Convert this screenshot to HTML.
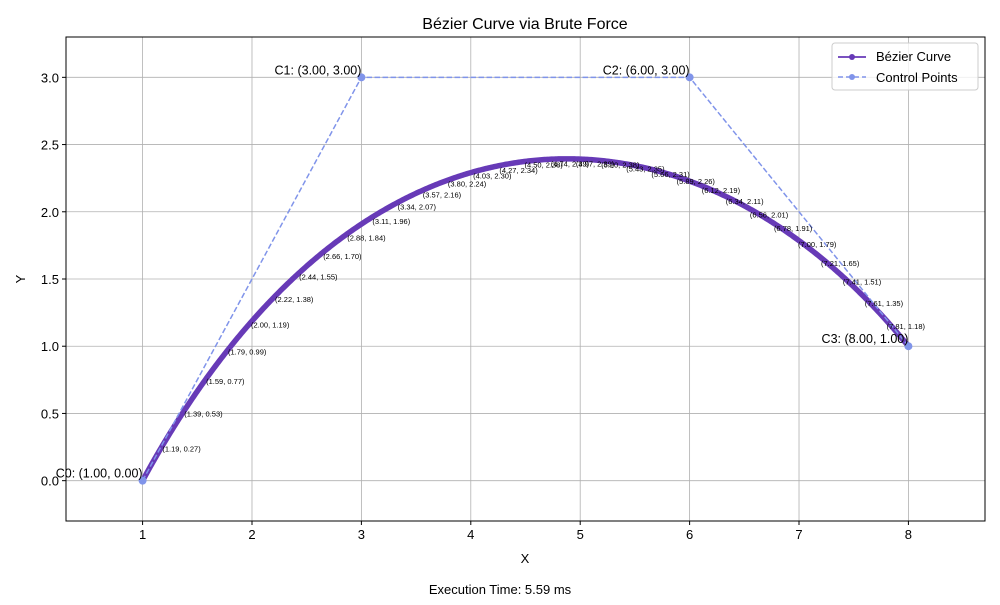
<!DOCTYPE html>
<html><head><meta charset="utf-8"><style>
body{margin:0;background:#fff;font-family:"Liberation Sans","DejaVu Sans",sans-serif}
svg text{font-family:"Liberation Sans","DejaVu Sans",sans-serif}
</style></head><body>
<svg id="chart" width="1000" height="600" xmlns="http://www.w3.org/2000/svg">
<rect width="1000" height="600" fill="#fff"/>
<g id="grid"></g>
<g id="series"></g>
<g id="labels"></g>
<rect x="66" y="37" width="919" height="484" fill="none" stroke="#000" stroke-width="1"/>
<g id="ticks"></g>
<text x="525" y="29" font-size="16" text-anchor="middle">Bézier Curve via Brute Force</text>
<text x="525" y="563" font-size="13" text-anchor="middle">X</text>
<text x="25" y="279" font-size="13" text-anchor="middle" transform="rotate(-90 25 279)">Y</text>
<text x="500" y="594" font-size="13" text-anchor="middle">Execution Time: 5.59 ms</text>
<g>
<rect x="832" y="43" width="146" height="47" rx="3" fill="#fff" fill-opacity="0.8" stroke="#ccc"/>
<g>
<line x1="838" y1="57" x2="866" y2="57" stroke="#673ab7" stroke-width="1.8"/><circle cx="852" cy="57" r="3" fill="#673ab7"/>
<text x="876" y="61" font-size="13">Bézier Curve</text></g>
<g>
<line x1="838" y1="77" x2="866" y2="77" stroke="#8094ea" stroke-width="1.5" stroke-dasharray="5,3"/><circle cx="852" cy="77" r="3" fill="#8094ea"/>
<text x="876" y="82" font-size="13">Control Points</text></g>
</g>
</svg>
<script>
const ctrlX=[1,3,6,8];
const ctrlY=[0,3,3,1];
const ctrlNames=["C0","C1","C2","C3"];
const labelX=[1.19,1.39,1.59,1.79,2.00,2.22,2.44,2.66,2.88,3.11,3.34,3.57,3.80,4.03,4.27,4.50,4.74,4.97,5.20,5.43,5.66,5.89,6.12,6.34,6.56,6.78,7.00,7.21,7.41,7.61,7.81];
const labelY=[0.27,0.53,0.77,0.99,1.19,1.38,1.55,1.70,1.84,1.96,2.07,2.16,2.24,2.30,2.34,2.38,2.39,2.39,2.38,2.35,2.31,2.26,2.19,2.11,2.01,1.91,1.79,1.65,1.51,1.35,1.18];
const xTicks=[1,2,3,4,5,6,7,8];
const yTicks=[0,0.5,1,1.5,2,2.5,3];
const nSamples=600;
const X0=0.3,X1=8.7,Y0=-0.3,Y1=3.3,L=66,R=985,T=37,B=521;
const sx=v=>L+(v-X0)/(X1-X0)*(R-L);
const sy=v=>B-(v-Y0)/(Y1-Y0)*(B-T);
const NS="http://www.w3.org/2000/svg";
function mk(tag,attrs,parent){const e=document.createElementNS(NS,tag);for(const k in attrs)e.setAttribute(k,attrs[k]);document.getElementById(parent).appendChild(e);return e;}
xTicks.forEach(v=>{
 const g=mk("line",{x1:sx(v),x2:sx(v),y1:T,y2:B,stroke:"#b0b0b0","stroke-width":0.8},"grid");
 
 
 const t=mk("line",{x1:sx(v),x2:sx(v),y1:B,y2:B+4,stroke:"#000"},"ticks");
 
 
 const l=mk("text",{x:sx(v),y:B+18,"font-size":13,"text-anchor":"middle"},"ticks");l.textContent=String(v);
 
 
});
yTicks.forEach(v=>{
 const g=mk("line",{x1:L,x2:R,y1:sy(v),y2:sy(v),stroke:"#b0b0b0","stroke-width":0.8},"grid");
 
 
 const t=mk("line",{x1:L-4,x2:L,y1:sy(v),y2:sy(v),stroke:"#000"},"ticks");
 
 
 const l=mk("text",{x:L-7,y:sy(v)+5,"font-size":13,"text-anchor":"end"},"ticks");l.textContent=v.toFixed(1);
 
 
});
const pts=[];
for(let i=0;i<=nSamples;i++){const t=i/nSamples,u=1-t;
 const w=[u*u*u,3*u*u*t,3*u*t*t,t*t*t];
 pts.push([w.reduce((s,c,k)=>s+c*ctrlX[k],0),w.reduce((s,c,k)=>s+c*ctrlY[k],0)]);}
const curve=mk("polyline",{points:pts.map(p=>sx(p[0])+","+sy(p[1])).join(" "),fill:"none",stroke:"#673ab7","stroke-width":5.5,"stroke-linecap":"round"},"series");


const cp=mk("polyline",{points:ctrlX.map((x,i)=>sx(x)+","+sy(ctrlY[i])).join(" "),fill:"none",stroke:"#8094ea","stroke-width":1.5,"stroke-dasharray":"5.5,2.5"},"series");


ctrlX.forEach((x,i)=>{
 const c=mk("circle",{cx:sx(x),cy:sy(ctrlY[i]),r:4,fill:"#8094ea"},"series");
 
 
 const t=mk("text",{x:sx(x),y:sy(ctrlY[i])-3,"font-size":12.5,"text-anchor":"end"},"labels");
 t.textContent=ctrlNames[i]+": ("+x.toFixed(2)+", "+ctrlY[i].toFixed(2)+")";
 
 
});
labelX.forEach((x,i)=>{
 const t=mk("text",{x:sx(x)-1,y:sy(labelY[i])+7,"font-size":7.5},"labels");
 t.textContent="("+x.toFixed(2)+", "+labelY[i].toFixed(2)+")";
 
 
});
</script>
</body></html>
